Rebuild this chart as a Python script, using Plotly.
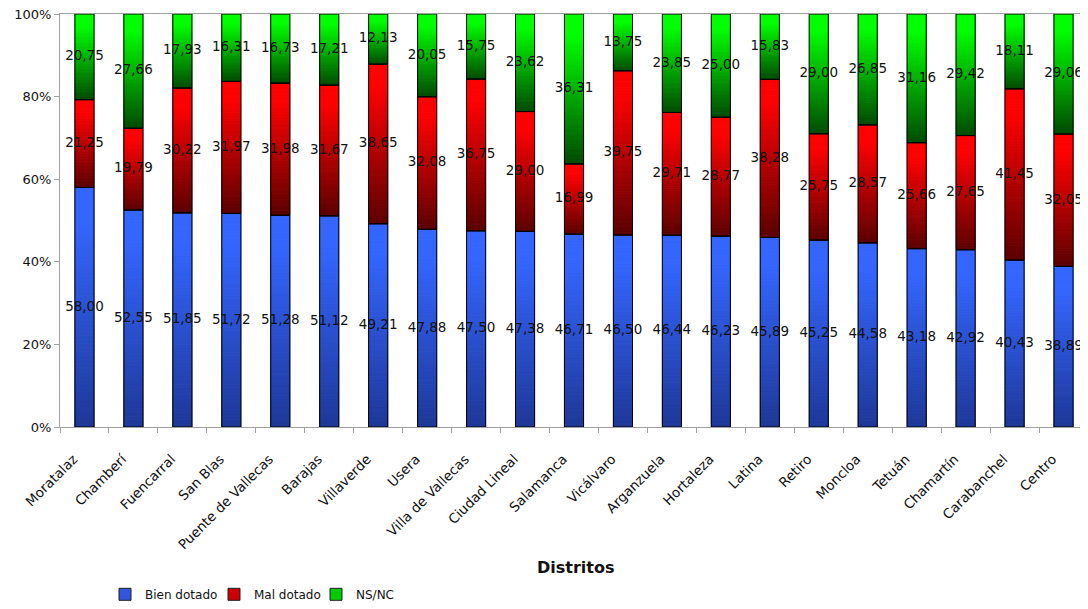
import plotly.graph_objects as go

distritos = ["Moratalaz", "Chamberí", "Fuencarral", "San Blas", "Puente de Vallecas", "Barajas",
             "Villaverde", "Usera", "Villa de Vallecas", "Ciudad Lineal", "Salamanca", "Vicálvaro",
             "Arganzuela", "Hortaleza", "Latina", "Retiro", "Moncloa", "Tetuán", "Chamartín",
             "Carabanchel", "Centro"]
bien_dotado = [58.00, 52.55, 51.85, 51.72, 51.28, 51.12, 49.21, 47.88, 47.50, 47.38, 46.71,
               46.50, 46.44, 46.23, 45.89, 45.25, 44.58, 43.18, 42.92, 40.43, 38.89]
mal_dotado = [21.25, 19.79, 30.22, 31.97, 31.98, 31.67, 38.65, 32.08, 36.75, 29.00, 16.99,
              39.75, 29.71, 28.77, 38.28, 25.75, 28.57, 25.66, 27.65, 41.45, 32.05]
ns_nc = [20.75, 27.66, 17.93, 16.31, 16.73, 17.21, 12.13, 20.05, 15.75, 23.62, 36.31,
         13.75, 23.85, 25.00, 15.83, 29.00, 26.85, 31.16, 29.42, 18.11, 29.06]
y_ticks = [0, 20, 40, 60, 80, 100]
y_ticktext = ["0%", "20%", "40%", "60%", "80%", "100%"]

series = [
    ("Bien dotado", bien_dotado, (0x34, 0x66, 0xff), (0x1e, 0x38, 0x98), "#3355dd", "legend"),
    ("Mal dotado", mal_dotado, (0xff, 0x00, 0x00), (0x5c, 0x00, 0x00), "#cc0000", "legend2"),
    ("NS/NC", ns_nc, (0x00, 0xff, 0x00), (0x00, 0x4c, 0x00), "#00cc00", "legend3"),
]

FONT = "DejaVu Sans, Liberation Sans, Arial, sans-serif"
N = 60
BAR_W = 0.39
fig = go.Figure()

bases = [0.0] * len(distritos)
label_x, label_y, label_t = [], [], []
outline_traces = []
for name, vals, top, bot, legcol, leg in series:
    for k in range(N):
        f = k / (N - 1)  # 0 bottom, 1 top
        g = min(1.0, f * 1.15)
        col = tuple(int(round(bot[i] + (top[i] - bot[i]) * g)) for i in range(3))
        c = "rgb(%d,%d,%d)" % col
        fig.add_trace(go.Bar(
            x=distritos,
            y=[v / N for v in vals],
            base=[b + v * k / N for b, v in zip(bases, vals)],
            width=BAR_W,
            marker=dict(color=c, line=dict(color=c, width=1)),
            showlegend=False, hoverinfo="skip",
        ))
    outline_traces.append(go.Bar(
        x=distritos, y=vals, base=list(bases), width=BAR_W, name=name,
        marker=dict(color="rgba(0,0,0,0)", line=dict(color="#000000", width=1)),
        showlegend=False, hoverinfo="skip",
    ))
    for d, b, v in zip(distritos, bases, vals):
        label_x.append(d)
        label_y.append(b + v / 2)
        label_t.append(f"{v:.2f}".replace(".", ","))
    fig.add_trace(go.Bar(x=[None], y=[None], name=name, legend=leg,
                         marker=dict(color=legcol, line=dict(color="#202020", width=1)),
                         showlegend=True))
    bases = [b + v for b, v in zip(bases, vals)]

for t in outline_traces:
    fig.add_trace(t)

fig.add_trace(go.Scatter(
    x=label_x, y=label_y, text=label_t, mode="text",
    textfont=dict(family=FONT, size=13.5, color="#111111"),
    showlegend=False, hoverinfo="skip", cliponaxis=False,
))

# page body adds an 8px offset; plot area spans screen x 60..1088, y 14..427.5
PLOT_H = 413.5
leg_y = (427.5 - 595) / PLOT_H


def leg(xscreen):
    return dict(orientation="h", x=(xscreen - 20 - 60) / 1028, xanchor="left", y=leg_y,
                yanchor="middle", font=dict(family=FONT, size=12, color="#111111"),
                itemwidth=30, bgcolor="rgba(0,0,0,0)")


fig.update_layout(
    width=1080, height=601,
    barmode="overlay",
    paper_bgcolor="white", plot_bgcolor="white",
    margin=dict(l=52, r=0, t=6, b=181.5, autoexpand=False),
    font=dict(family=FONT, size=13, color="#111111"),
    showlegend=True,
    legend=leg(125), legend2=leg(234), legend3=leg(336),
    annotations=[dict(text="<b>Distritos</b>", x=(575 - 60) / 1028, y=(427.5 - 568) / PLOT_H,
                      xref="paper", yref="paper", xanchor="center", yanchor="middle",
                      showarrow=False, font=dict(family=FONT, size=16, color="#111111"))],
)
fig.update_xaxes(
    type="category", range=[-0.5, 20.5], tickangle=-45, automargin=False,
    showline=True, linecolor="#a0a0a0", linewidth=1, mirror=True,
    ticks="outside", tickson="boundaries", ticklen=5, tickcolor="#a0a0a0",
    ticklabelstandoff=18, ticklabelshift=-11, ticklabeloverflow="allow",
    showgrid=False, tickfont=dict(family=FONT, size=13.5, color="#111111"),
)
fig.update_yaxes(
    range=[0, 100], tickvals=y_ticks, ticktext=y_ticktext, automargin=False,
    showline=True, linecolor="#a0a0a0", linewidth=1,
    ticks="outside", ticklen=5, tickcolor="#a0a0a0", ticklabeloverflow="allow",
    showgrid=False, zeroline=False, tickfont=dict(family=FONT, size=13, color="#111111"),
)

fig.write_html("out.html")
